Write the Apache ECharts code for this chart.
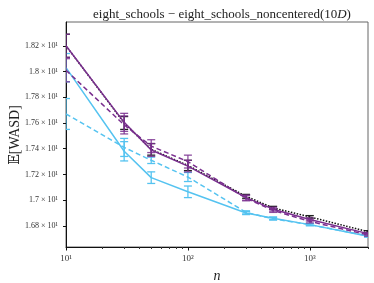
<!DOCTYPE html>
<html><head><meta charset="utf-8">
<script src="https://cdn.jsdelivr.net/npm/echarts@6/dist/echarts.min.js"></script>
<style>html,body{margin:0;padding:0;background:#fff}#c{width:374px;height:283px}</style>
</head><body><div id="c"></div>
<script>
// sample sizes n
const nValues = [10, 30, 50, 100, 300, 500, 1000, 3000];
// E[WASD] series (actual values, axis labels are x 10^1)
const purpleSolid = [18.20, 17.605, 17.39, 17.265, 17.02, 16.93, 16.85, 16.74];
const purpleSolidErr = [0.09, 0.07, 0.05, 0.045, 0.02, 0.015, 0.012, 0.01];
const purpleDashed = [18.01, 17.585, 17.42, 17.30, 17.015, 16.92, 16.835, 16.73];
const purpleDashedErr = [0.09, 0.07, 0.05, 0.05, 0.02, 0.015, 0.012, 0.01];
const blackDotted = [18.20, 17.60, 17.395, 17.27, 17.03, 16.94, 16.87, 16.755];
const blackDottedErr = [0.09, 0.05, 0.045, 0.04, 0.015, 0.012, 0.01, 0.008];
const blueSolid = [18.03, 17.38, 17.175, 17.065, 16.90, 16.86, 16.81, 16.72];
const blueSolidErr = [0.11, 0.075, 0.045, 0.045, 0.012, 0.01, 0.008, 0.007];
const blueDashed = [17.67, 17.41, 17.31, 17.18, 16.905, 16.855, 16.81, 16.722];
const blueDashedErr = [0.12, 0.07, 0.025, 0.035, 0.012, 0.01, 0.008, 0.007];
// tick labels
const yTicks = [16.8, 17.0, 17.2, 17.4, 17.6, 17.8, 18.0, 18.2];
const xMajor = [10, 100, 1000];
const xMinor = [20,30,40,50,60,70,80,90,200,300,400,500,600,700,800,900,2000,3000];

const PURPLE = '#7a2f8f';
const BLUE = '#55c3f0';
const lg = Math.log10;
const sup = {'0':'⁰','1':'¹','2':'²','3':'³','4':'⁴'};

function lineData(vals){ return nValues.map((n,i)=>[lg(n), vals[i]]); }
function errData(vals, errs){ return nValues.map((n,i)=>[lg(n), vals[i]-errs[i], vals[i]+errs[i]]); }
function errSeries(vals, errs, color, z){
  return {
    type:'custom', clip:true, z:z, silent:true,
    data: errData(vals, errs),
    renderItem: function(params, api){
      const x = api.value(0);
      const lo = api.coord([x, api.value(1)]);
      const hi = api.coord([x, api.value(2)]);
      const w = 4;
      const left = params.coordSys.x;
      const xl = Math.max(lo[0]-w, left);
      const st = {stroke: color, lineWidth: 1.3};
      return {type:'group', children:[
        {type:'line', shape:{x1:lo[0], y1:lo[1], x2:hi[0], y2:hi[1]}, style:st},
        {type:'line', shape:{x1:xl, y1:lo[1], x2:lo[0]+w, y2:lo[1]}, style:st},
        {type:'line', shape:{x1:xl, y1:hi[1], x2:hi[0]+w, y2:hi[1]}, style:st}
      ]};
    }
  };
}
function lineSeries(vals, color, type, z){
  return {type:'line', data: lineData(vals), showSymbol:false, symbol:'none', z:z, silent:true,
    lineStyle:{color:color, width:1.5, type:type}, clip:true};
}

const chart = echarts.init(document.getElementById('c'), null, {renderer:'canvas'});
const serif = 'Liberation Serif, DejaVu Serif, serif';
chart.setOption({
  animation:false,
  title:{
    text:'{a|eight_schools − eight_schools_noncentered(10}{i|D}{a|)}',
    left: 217, top: 3, textAlign:'center',
    textStyle:{fontWeight:'normal', rich:{
      a:{fontFamily:serif, fontSize:13, fontWeight:'normal', color:'#222'},
      i:{fontFamily:serif, fontSize:13, fontWeight:'normal', fontStyle:'italic', color:'#222'}}}
  },
  graphic:[{
    type:'text', x:15, y:135, rotation:Math.PI/2, silent:true,
    style:{text:'𝔼[WASD]', fontFamily:serif, fontSize:14, fill:'#222', align:'center', verticalAlign:'middle'}
  }],
  grid:{left:66, right:6, top:22, bottom:36, show:true, borderColor:'#666', borderWidth:1,
    containLabel:false, outerBoundsMode:'none'},
  xAxis:[{
    type:'value', min:1, max:lg(3000),
    axisLine:{show:true, onZero:false, lineStyle:{color:'#111', width:1}},
    splitLine:{show:false},
    axisTick:{show:true, length:3.5, inside:false, customValues: xMajor.map(lg), lineStyle:{color:'#111'}},
    axisLabel:{customValues: xMajor.map(lg), fontFamily:serif, fontSize:9, color:'#333', margin:7,
      formatter: v => '10' + String(Math.round(v)).split('').map(c=>sup[c]).join('')},
    name:'n', nameLocation:'middle', nameGap:22,
    nameTextStyle:{fontFamily:serif, fontSize:14, fontStyle:'italic', color:'#222'}
  },{
    type:'value', min:1, max:lg(3000), position:'bottom',
    axisLine:{show:false}, splitLine:{show:false},
    axisTick:{show:true, length:2, customValues: xMinor.map(lg), lineStyle:{color:'#333'}},
    axisLabel:{show:false}
  }],
  yAxis:{
    type:'value', min:16.636, max:18.385,
    axisLine:{show:true, lineStyle:{color:'#111', width:1}},
    splitLine:{show:false},
    axisTick:{show:true, length:3, customValues: yTicks, lineStyle:{color:'#111'}},
    axisLabel:{customValues: yTicks, fontFamily:serif, fontSize:8, color:'#333', margin:8,
      formatter: v => parseFloat((v/10).toFixed(3)) + ' × 10¹'}
  },
  series:[
    lineSeries(blueDashed, BLUE, [5,3], 2),
    lineSeries(blueSolid, BLUE, 'solid', 2),
    errSeries(blueDashed, blueDashedErr, BLUE, 3),
    errSeries(blueSolid, blueSolidErr, BLUE, 3),
    lineSeries(blackDotted, '#111', [1.5,1.5], 4),
    errSeries(blackDotted, blackDottedErr, '#222', 4),
    lineSeries(purpleDashed, PURPLE, [5,3], 5),
    lineSeries(purpleSolid, PURPLE, 'solid', 5),
    errSeries(purpleDashed, purpleDashedErr, 'rgba(122,47,143,0.85)', 6),
    errSeries(purpleSolid, purpleSolidErr, 'rgba(122,47,143,0.85)', 6)
  ]
});
</script></body></html>
